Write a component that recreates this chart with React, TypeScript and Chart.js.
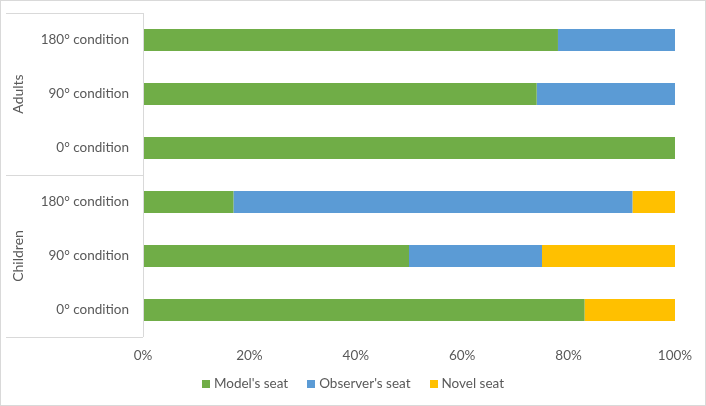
import React, { useEffect, useRef } from "react";
import { Chart, registerables } from "chart.js";

Chart.register(...registerables);

const categories = ["180° condition", "90° condition", "0° condition", "180° condition", "90° condition", "0° condition"];
const groups = ["Adults", "Children"];
const groupSizes = [3, 3];
const modelSeat = [78, 74, 100, 17, 50, 83];
const observerSeat = [22, 26, 0, 75, 25, 0];
const novelSeat = [0, 0, 0, 8, 25, 17];
const xTicks = [0, 20, 40, 60, 80, 100];

const FONT = "Lato, 'Open Sans', sans-serif";
const TEXT = "#595959";
const LINE = "#d9d9d9";

const groupPlugin = {
  id: "groupAxis",
  afterDraw(chart: any) {
    const { ctx, chartArea, scales } = chart;
    const y = scales.y;
    const left = 6;
    const right = chartArea.left;
    const step = y.getPixelForValue(1) - y.getPixelForValue(0);
    ctx.save();
    ctx.strokeStyle = LINE;
    ctx.lineWidth = 1;
    ctx.beginPath();
    ctx.moveTo(Math.round(right) + 0.5, chartArea.top);
    ctx.lineTo(Math.round(right) + 0.5, chartArea.bottom);
    ctx.stroke();
    let idx = 0;
    const boundaries: number[] = [y.getPixelForValue(0) - step / 2];
    groups.forEach((g, gi) => {
      const start = idx;
      const end = idx + groupSizes[gi] - 1;
      idx += groupSizes[gi];
      boundaries.push(y.getPixelForValue(end) + step / 2);
      const mid = (y.getPixelForValue(start) + y.getPixelForValue(end)) / 2;
      ctx.save();
      ctx.translate(18, mid);
      ctx.rotate(-Math.PI / 2);
      ctx.fillStyle = TEXT;
      ctx.font = `14px ${FONT}`;
      ctx.textAlign = "center";
      ctx.textBaseline = "middle";
      ctx.fillText(g, 0, 0);
      ctx.restore();
    });
    boundaries.forEach((b) => {
      ctx.beginPath();
      ctx.moveTo(left, Math.round(b) + 0.5);
      ctx.lineTo(right, Math.round(b) + 0.5);
      ctx.stroke();
    });

    // legend
    const ds = chart.data.datasets;
    ctx.font = `13.5px ${FONT}`;
    const box = 8;
    const gapBox = 4;
    const gapItem = 19;
    const widths = ds.map((d: any) => box + gapBox + ctx.measureText(d.label).width);
    const total = widths.reduce((a: number, b: number) => a + b, 0) + gapItem * (ds.length - 1);
    let x = chart.width / 2 - total / 2;
    const cy = 384;
    ds.forEach((d: any, i: number) => {
      ctx.fillStyle = d.backgroundColor;
      ctx.fillRect(Math.round(x), cy - 4, box, box);
      ctx.fillStyle = TEXT;
      ctx.textAlign = "left";
      ctx.textBaseline = "middle";
      ctx.fillText(d.label, x + box + gapBox, cy);
      x += widths[i] + gapItem;
    });
    ctx.restore();
  },
};

export default function App() {
  const ref = useRef<HTMLCanvasElement>(null);
  useEffect(() => {
    document.body.style.margin = "0";
    const chart = new Chart(ref.current as HTMLCanvasElement, {
      type: "bar",
      data: {
        labels: categories,
        datasets: [
          { label: "Model's seat", data: modelSeat, backgroundColor: "#70AD47" },
          { label: "Observer's seat", data: observerSeat, backgroundColor: "#5B9BD5" },
          { label: "Novel seat", data: novelSeat, backgroundColor: "#FFC000" },
        ],
      },
      options: {
        indexAxis: "y",
        animation: false,
        responsive: false,
        maintainAspectRatio: false,
        layout: { padding: { top: 13, right: 31, left: 0, bottom: 38 } },
        datasets: { bar: { barPercentage: 0.41, categoryPercentage: 1 } },
        scales: {
          x: {
            stacked: true,
            min: 0,
            max: 100,
            afterBuildTicks: (s: any) => {
              s.ticks = xTicks.map((v) => ({ value: v }));
            },
            afterFit: (s: any) => {
              s.height = 31;
              s.paddingLeft = 0;
              s.paddingRight = 0;
            },
            grid: { display: false, drawTicks: false },
            border: { display: false },
            ticks: {
              color: TEXT,
              font: { family: FONT, size: 13.5 },
              padding: 11,
              callback: (v: any) => v + "%",
            },
          },
          y: {
            stacked: true,
            afterFit: (s: any) => {
              s.width = 143;
              s.paddingTop = 0;
              s.paddingBottom = 0;
            },
            grid: { display: false, drawTicks: false },
            border: { display: false },
            ticks: { color: TEXT, font: { family: FONT, size: 13.5 }, padding: 14 },
          },
        },
        plugins: {
          legend: { display: false },
          tooltip: { enabled: false },
        },
      },
      plugins: [groupPlugin],
    } as any);
    return () => chart.destroy();
  }, []);
  return (
    <div style={{ width: 706, height: 406, position: "relative", boxSizing: "border-box" }}>
      <canvas ref={ref} width={706} height={406} style={{ position: "absolute", left: 0, top: 0 }} />
      <div style={{ position: "absolute", left: 0, top: 0, width: 706, height: 406, boxSizing: "border-box", border: "1px solid #d9d9d9", pointerEvents: "none" }} />
    </div>
  );
}
